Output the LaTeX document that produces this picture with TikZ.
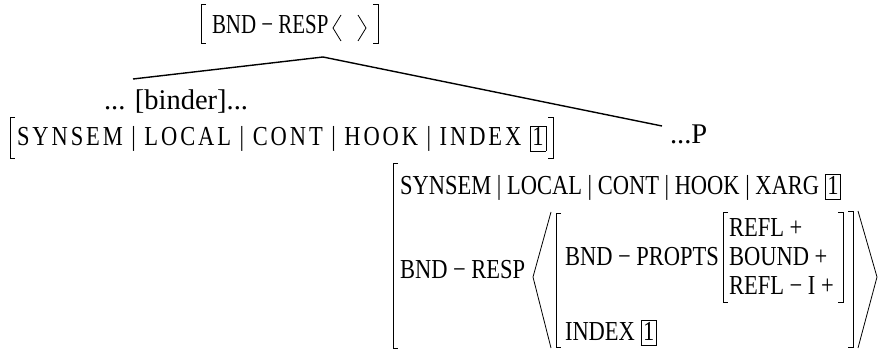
\documentclass[tikz,border=0pt]{standalone}
\usepackage{fontspec}
\setmainfont{Liberation Serif}
\newfontfamily\spacedfont[LetterSpace=13]{Liberation Serif}
\newcommand\boxone{{\setlength\fboxsep{1.2pt}\setlength\fboxrule{0.7pt}\fbox{\rule[-2.5pt]{0pt}{17pt}\hspace{0.6pt}1\hspace{0.6pt}}}}
\newcommand\tall[1]{\scalebox{1}[1.22]{#1}}
\begin{document}
\begin{tikzpicture}[x=1pt,y=-1pt,
  txt/.style={inner sep=0pt,outer sep=0pt,anchor=base west,font=\fontsize{22.5}{27}\selectfont},
  big/.style={inner sep=0pt,outer sep=0pt,anchor=base west,font=\fontsize{28.5}{32}\selectfont},
  br/.style={line width=0.8pt},
  edge/.style={line width=1.4pt}]
\useasboundingbox (0,0) rectangle (880,350);
% cut-off label mark
\node[big,anchor=base west] (lbl) at (25,-5) {)};
% top AVM
\node[txt] (top) at (212,34) {\scalebox{0.93}[1.22]{BND − RESP}};
\draw[br] (206,4) -- (201,4) -- (201,43) -- (206,43);
\draw[br] (373,4) -- (378,4) -- (378,43) -- (373,43);
\draw[br] (341,15) -- (333,28) -- (341,41);
\draw[br] (358,15) -- (366,28) -- (358,41);
\coordinate (apex) at (323,57);
% binder daughter
\node[big] (binder) at (104,110) {... [binder]...};
\coordinate (lend) at (133,79);
\node[txt] (left) at (17,146) {\tall{\spacedfont SYNSEM | LOCAL | CONT | HOOK | INDEX \boxone}};
\draw[br] (15,117) -- (10,117) -- (10,158) -- (15,158);
\draw[br] (548,117) -- (553,117) -- (553,158) -- (548,158);
% P daughter
\node[big] (p) at (670,143) {...P};
\coordinate (rend) at (662,126);
\draw[edge] (lend) -- (apex) -- (rend);
% bottom AVM
\node[txt] (r1) at (400,194) {\tall{SYNSEM | LOCAL | CONT | HOOK | XARG \boxone}};
\draw[br] (398,163) -- (393,163) -- (393,348) -- (398,348);
\node[txt] (bndresp) at (400,278) {\tall{BND − RESP}};
\draw[br] (551,212) -- (533,277) -- (551,348);
\draw[br] (561,213) -- (556,213) -- (556,347) -- (561,347);
\node[txt] (props) at (565,265) {\tall{BND − PROPTS}};
\draw[br] (728,212) -- (723,212) -- (723,302) -- (728,302);
\node[txt] (refl) at (729,236) {\tall{REFL +}};
\node[txt] (bound) at (729,265) {\tall{BOUND +}};
\node[txt] (refli) at (729,294) {\tall{REFL − I +}};
\draw[br] (838,212) -- (843,212) -- (843,302) -- (838,302);
\node[txt] (index) at (565,340) {\tall{INDEX \boxone}};
\draw[br] (848,211) -- (853,211) -- (853,347) -- (848,347);
\draw[br] (858,211) -- (877,277) -- (858,348);
\end{tikzpicture}
\end{document}
